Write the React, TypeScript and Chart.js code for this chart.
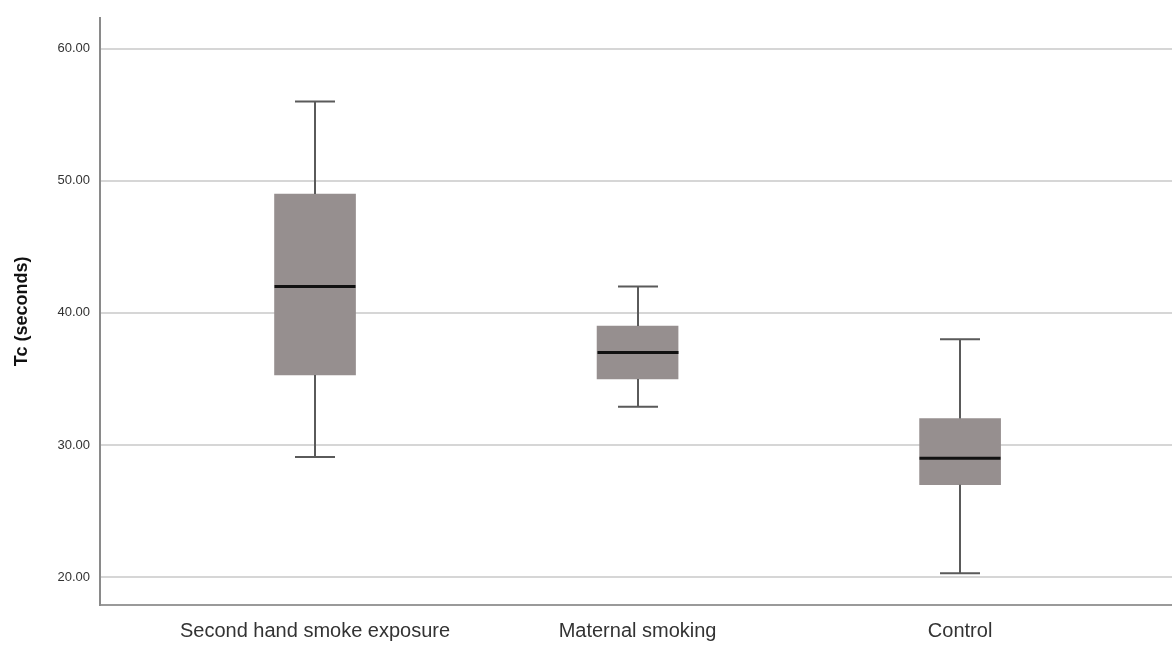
import React, { useEffect, useRef } from "react";
import { Chart, registerables } from "chart.js";

Chart.register(...registerables);

const categories = ["Second hand smoke exposure", "Maternal smoking", "Control"];
const positions = [1, 2, 3];
const whiskerLow = [29.1, 32.9, 20.3];
const q1 = [35.3, 35.0, 27.0];
const median = [42.0, 37.0, 29.0];
const q3 = [49.0, 39.0, 32.0];
const whiskerHigh = [56.0, 42.0, 38.0];
const yTicks = [20, 30, 40, 50, 60];

const boxPlugin = {
  id: "boxWhiskers",
  afterDatasetsDraw(chart: any) {
    const { ctx, scales } = chart;
    const xs = scales.x;
    const ys = scales.y;
    const cap = 20;
    const half = 40.5;
    ctx.save();
    positions.forEach((p, i) => {
      const cx = Math.round(xs.getPixelForValue(p));
      const yLo = ys.getPixelForValue(whiskerLow[i]);
      const yQ1 = ys.getPixelForValue(q1[i]);
      const yQ3 = ys.getPixelForValue(q3[i]);
      const yHi = ys.getPixelForValue(whiskerHigh[i]);
      const yMed = ys.getPixelForValue(median[i]);
      ctx.strokeStyle = "#5a5a5a";
      ctx.lineWidth = 2;
      ctx.beginPath();
      ctx.moveTo(cx, yQ3);
      ctx.lineTo(cx, yHi);
      ctx.moveTo(cx - cap, yHi);
      ctx.lineTo(cx + cap, yHi);
      ctx.moveTo(cx, yQ1);
      ctx.lineTo(cx, yLo);
      ctx.moveTo(cx - cap, yLo);
      ctx.lineTo(cx + cap, yLo);
      ctx.stroke();
      ctx.strokeStyle = "#111111";
      ctx.lineWidth = 3;
      ctx.beginPath();
      ctx.moveTo(cx - half, yMed);
      ctx.lineTo(cx + half, yMed);
      ctx.stroke();
    });
    ctx.restore();
  },
};

export default function App() {
  const ref = useRef<HTMLCanvasElement>(null);
  useEffect(() => {
    document.body.style.margin = "0";
    const chart = new Chart(ref.current!, {
      type: "bar",
      data: {
        datasets: [
          {
            data: positions.map((p, i) => ({ x: p, y: [q1[i], q3[i]] })) as any,
            backgroundColor: "#968f8f",
            borderWidth: 0,
            barThickness: 81,
          },
        ],
      },
      options: {
        responsive: false,
        animation: false,
        layout: { padding: { top: 15, right: 0, left: 0, bottom: 0 } },
        plugins: { legend: { display: false }, tooltip: { enabled: false } },
        scales: {
          x: {
            type: "linear",
            offset: false,
            min: 0.3333,
            max: 3.657,
            grid: { display: false, drawTicks: false },
            border: { display: true, color: "#9a9a9a", width: 2 },
            afterBuildTicks: (s: any) => {
              s.ticks = positions.map((v) => ({ value: v }));
            },
            afterFit: (s: any) => {
              s.height = 45;
            },
            ticks: {
              padding: 14,
              maxRotation: 0,
              autoSkip: false,
              color: "#333333",
              font: { family: "Arial, Liberation Sans, sans-serif", size: 20 },
              callback: (v: any) => {
                const i = positions.indexOf(Number(v));
                return i >= 0 ? categories[i] : "";
              },
            },
          },
          y: {
            min: 17.89,
            max: 62.335,
            afterBuildTicks: (s: any) => {
              s.ticks = yTicks.map((v) => ({ value: v }));
            },
            afterFit: (s: any) => {
              s.width = 100;
            },
            grid: { color: "#d6d6d6", lineWidth: 2, drawTicks: false },
            border: { display: true, color: "#8a8a8a", width: 2 },
            ticks: {
              padding: 10,
              color: "#333333",
              font: { family: "Arial, Liberation Sans, sans-serif", size: 13 },
              callback: (v: any) => Number(v).toFixed(2),
            },
            title: {
              display: true,
              text: "Tc (seconds)",
              color: "#111111",
              padding: { top: 11, bottom: 0 },
              font: { family: "Arial, Liberation Sans, sans-serif", size: 18, weight: "bold" },
            },
          },
        },
      },
      plugins: [boxPlugin],
    });
    return () => chart.destroy();
  }, []);
  return <canvas ref={ref} width={1172} height={650} style={{ display: "block" }} />;
}
